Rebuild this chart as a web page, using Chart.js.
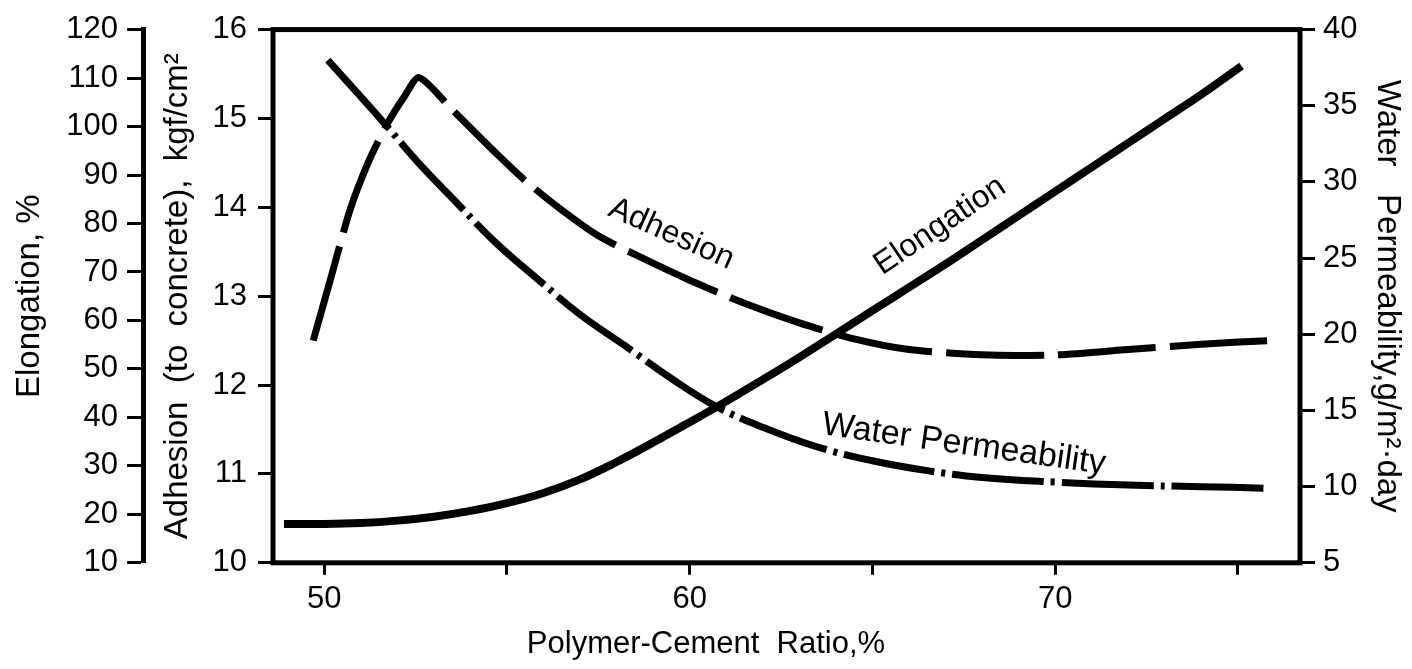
<!DOCTYPE html>
<html lang="en">
<head>
<meta charset="UTF-8">
<title>Polymer-Cement Ratio vs Elongation, Adhesion and Water Permeability</title>
<script src="https://cdn.jsdelivr.net/npm/chart.js"></script>
<style>
  html, body { margin: 0; padding: 0; background: #fff; }
  #pcChart { display: block; }
</style>
</head>
<body>
<canvas id="pcChart" width="1412" height="669"></canvas>
<script>
// Polymer-cement ratio (%) against each measured property
const elongRatio = [48.9, 50, 51, 52, 53, 54, 55, 56, 57, 58, 59, 60, 61, 62, 63, 64, 65, 66, 67, 68, 69, 70, 71, 72, 73, 74, 75.1];
const elongation = [18, 18, 18.2, 18.7, 19.5, 20.7, 22.3, 24.4, 27.2, 30.8, 34.8, 39, 43.3, 47.8, 52.4, 57.2, 62, 66.8, 71.6, 76.6, 81.6, 86.6, 91.6, 96.6, 101.6, 106.6, 112.5];

const adhRatio = [49.7, 50.2, 50.7, 51.2, 51.7, 52.2, 52.6, 53.5, 54.65, 55.5, 56.5, 57.5, 58.6, 60, 61.5, 63, 64.5, 66, 68, 70, 72, 74, 75.8];
const adhesion = [12.5, 13.23, 13.96, 14.5, 14.92, 15.25, 15.46, 15.1, 14.63, 14.3, 13.97, 13.68, 13.45, 13.18, 12.92, 12.7, 12.52, 12.4, 12.34, 12.34, 12.4, 12.46, 12.5];

const waterRatio = [50.1, 51, 51.7, 52.6, 53.6, 54.7, 55.9, 57, 58.2, 59.5, 60.7, 62, 63.5, 65, 66.5, 68, 70, 72, 74, 75.7];
const permeability = [38, 35.6, 33.7, 31.2, 28.7, 26, 23.5, 21.3, 19.3, 17.1, 15.3, 13.9, 12.6, 11.7, 11.05, 10.6, 10.3, 10.1, 10, 9.9];

// ticks on the ratio axis; only every other one is numbered
const xTicks = [50, 55, 60, 65, 70, 75];
const xNumbered = [50, 60, 70];

const FONT = "'Liberation Sans', Arial, Helvetica, sans-serif";

function points(xs, ys) {
  return xs.map((x, i) => ({ x: x, y: ys[i] }));
}

// names written next to the curves, anchored in data units
const curveNames = [
  { text: 'Adhesion', x: 59.5, y: 13.7, axis: 'yAdh', angle: 24 },
  { text: 'Elongation', x: 66.85, y: 79.5, axis: 'yElong', angle: -34 },
  { text: 'Water Permeability', x: 67.5, y: 12.75, axis: 'yWater', angle: 8 }
];

const frameAndNames = {
  id: 'frameAndNames',
  afterDatasetsDraw(chart) {
    const { ctx, chartArea: a, scales } = chart;
    ctx.save();
    ctx.strokeStyle = '#000';
    ctx.lineWidth = 5;
    ctx.strokeRect(a.left, a.top, a.right - a.left, a.bottom - a.top);

    ctx.fillStyle = '#000';
    ctx.textAlign = 'center';
    ctx.textBaseline = 'middle';
    curveNames.forEach(n => {
      const px = scales.x.getPixelForValue(n.x);
      const py = scales[n.axis].getPixelForValue(n.y);
      ctx.font = (n.text.length > 12 ? 34 : 32) + 'px ' + FONT;
      ctx.save();
      ctx.translate(px, py);
      ctx.rotate(n.angle * Math.PI / 180);
      ctx.fillText(n.text, 0, 0);
      ctx.restore();
    });
    ctx.restore();
  }
};

const tickGrid = (len) => ({
  drawOnChartArea: false,
  color: '#000',
  tickLength: len,
  tickWidth: 3
});

const tickFont = { family: FONT, size: 31 };
const titleFont = { family: FONT, size: 33 };

new Chart(document.getElementById('pcChart'), {
  type: 'line',
  data: {
    datasets: [
      {
        label: 'Elongation',
        data: points(elongRatio, elongation),
        yAxisID: 'yElong',
        borderColor: '#000',
        borderWidth: 8,
        tension: 0.4
      },
      {
        label: 'Adhesion',
        data: points(adhRatio, adhesion),
        yAxisID: 'yAdh',
        borderColor: '#000',
        borderWidth: 7,
        borderDash: [98, 14],
        tension: 0.25
      },
      {
        label: 'Water Permeability',
        data: points(waterRatio, permeability),
        yAxisID: 'yWater',
        borderColor: '#000',
        borderWidth: 7,
        borderDash: [92, 7, 4, 7],
        tension: 0.4
      }
    ]
  },
  options: {
    responsive: false,
    animation: false,
    layout: { padding: { top: 23, left: 0, right: 0, bottom: 0 } },
    elements: { point: { radius: 0 } },
    plugins: {
      legend: { display: false },
      tooltip: { enabled: false },
      title: {
        display: true,
        position: 'bottom',
        text: 'Polymer-Cement  Ratio,%',
        color: '#000',
        font: { family: FONT, size: 31, weight: 'normal' },
        padding: { top: 8, bottom: 6 }
      }
    },
    scales: {
      x: {
        type: 'linear',
        min: 48.6,
        max: 76.7,
        afterBuildTicks: (scale) => { scale.ticks = xTicks.map(v => ({ value: v })); },
        afterFit: (scale) => { scale.height = 55; },
        grid: tickGrid(12),
        border: { display: false },
        ticks: {
          color: '#000',
          padding: 6,
          maxRotation: 0,
          autoSkip: false,
          font: tickFont,
          callback: (v) => xNumbered.includes(v) ? String(v) : ''
        }
      },
      yAdh: {
        position: 'left',
        weight: 0,
        min: 10,
        max: 16,
        afterFit: (scale) => { scale.width = 130; },
        grid: tickGrid(15),
        border: { display: false },
        ticks: { stepSize: 1, color: '#000', padding: 11, font: tickFont },
        title: {
          display: true,
          text: 'Adhesion  (to  concrete),  kgf/cm²',
          color: '#000',
          font: titleFont,
          padding: { top: 15, bottom: 0 }
        }
      },
      yElong: {
        position: 'left',
        weight: 1,
        min: 10,
        max: 120,
        afterFit: (scale) => { scale.width = 143; },
        grid: tickGrid(16),
        border: { display: true, color: '#000', width: 5 },
        ticks: { stepSize: 10, color: '#000', padding: 9, font: tickFont },
        title: {
          display: true,
          text: 'Elongation, %',
          color: '#000',
          font: titleFont,
          padding: { top: 10, bottom: 0 }
        }
      },
      yWater: {
        position: 'right',
        min: 5,
        max: 40,
        afterFit: (scale) => { scale.width = 112; },
        grid: tickGrid(15),
        border: { display: false },
        ticks: { stepSize: 5, color: '#000', padding: 8, font: tickFont },
        title: {
          display: true,
          text: 'Water   Permeability,g/m²·day',
          color: '#000',
          font: titleFont,
          padding: { top: 5, bottom: 0 }
        }
      }
    }
  },
  plugins: [frameAndNames]
});
</script>
</body>
</html>
